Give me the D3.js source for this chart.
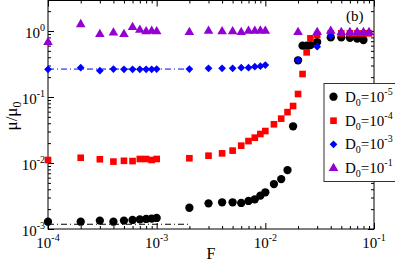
<!DOCTYPE html>
<html><head><meta charset="utf-8">
<script src="https://cdn.jsdelivr.net/npm/d3@7"></script>
<style>body{margin:0;background:#fff}svg{display:block}text{font-family:"Liberation Serif","DejaVu Serif",serif}</style>
</head><body>
<svg id="c" width="395" height="264"></svg>
<script>
// ---- data ----
const F_low = [1e-4,2e-4,3e-4,4e-4,5e-4,6e-4,7e-4,8e-4,9e-4,1e-3,2e-3];
const F_mid = [3e-3,4e-3,5e-3,6e-3,7e-3,8e-3,9e-3,1e-2];

const blackF = [...F_low, ...F_mid, 1.2e-2,1.4e-2,1.6e-2,1.8e-2,2e-2,2.2e-2,2.4e-2,2.6e-2,3e-2,4e-2,5e-2,6e-2,7e-2,8e-2];
const blackV = [1.29e-3,1.29e-3,1.34e-3,1.29e-3,1.34e-3,1.37e-3,1.40e-3,1.42e-3,1.44e-3,1.47e-3,2.1e-3,
                2.45e-3,2.54e-3,2.54e-3,2.48e-3,2.66e-3,2.82e-3,3.2e-3,3.6e-3,
                4.8e-3,5.7e-3,7.8e-3,3.6e-2,0.36,0.60,0.60,0.61,0.68,0.80,0.80,0.79,0.77,0.73];

const redF = [...F_low, ...F_mid, 1.2e-2,1.4e-2,1.6e-2,1.8e-2,2e-2,2.2e-2,2.4e-2,2.6e-2,3e-2,4e-2,5e-2,6e-2,7e-2,8e-2,9e-2];
const redV = [1.11e-2,1.2e-2,1.14e-2,1.05e-2,1.08e-2,1.07e-2,1.15e-2,1.15e-2,1.11e-2,1.15e-2,1.18e-2,
              1.29e-2,1.4e-2,1.54e-2,1.83e-2,2.15e-2,2.42e-2,2.75e-2,3.05e-2,
              3.86e-2,4.7e-2,5.9e-2,7.3e-2,0.111,0.223,0.475,0.775,0.87,0.92,0.92,0.92,0.92,0.92,0.92];

const blueF = [...F_low, ...F_mid, 2e-2,3e-2,4e-2];
const blueV = [0.263,0.278,0.25,0.265,0.263,0.263,0.263,0.263,0.263,0.265,0.265,
               0.272,0.272,0.272,0.278,0.278,0.288,0.293,0.305,
               0.363,0.578,0.85];

const violetF = [...F_low, ...F_mid, 2e-2,3e-2,4e-2,5e-2,6e-2,7e-2,8e-2,9e-2];
const violetV = [0.674,1.26,0.89,0.94,0.89,1.14,1.035,0.98,1.0,0.98,0.955,
                 1.0,0.98,0.98,0.955,1.0,1.0,1.01,1.0,
                 0.955,0.955,1.0,0.955,0.955,0.955,0.955,0.955];

const blackLineF = [1e-4, 2e-3];
const blackLineV = [1.18e-3, 1.18e-3];
const blueLineF = [1e-4, 2e-3];
const blueLineV = [0.265, 0.265];

const xMajor = [1e-4,1e-3,1e-2,1e-1];
const xMajorExp = ["-4","-3","-2","-1"];
const yMajor = [1e-3,1e-2,1e-1,1e0];
const yMajorExp = ["-3","-2","-1","0"];

const legendExp = ["-5","-4","-3","-1"];
const colors = ["#000000","#ff0000","#0000ff","#9400d3"];
const shapes = ["circle","square","diamond","triangle"];

// ---- chart ----
const svg = d3.select("#c");
const L=48, R=374, T=0.5, B=229;
const x = d3.scaleLog().domain([1e-4,1e-1]).range([L,R]);
const y = d3.scaleLog().domain([1e-3, Math.pow(10,(B-T)/66-3)]).range([B,T]);

function minors(dom){
  const out=[];
  for(let e=Math.floor(Math.log10(dom[0]));e<=Math.ceil(Math.log10(dom[1]));e++){
    for(let k=2;k<=9;k++){const v=k*Math.pow(10,e); if(v>dom[0]&&v<dom[1]) out.push(v);}
  }
  return out;
}
const g = svg.append("g");
g.append("rect").attr("x",L).attr("y",T).attr("width",R-L).attr("height",B-T)
  .attr("fill","none").attr("stroke","#000").attr("stroke-width",1);

function axis(gen, scale, vals, size, tr){
  const a = gen(scale).tickValues(vals).tickSize(size).tickFormat("");
  const s = g.append("g").attr("transform",tr).call(a);
  s.select(".domain").remove();
  s.selectAll("line").attr("stroke","#000");
}
const xm = minors(x.domain()), ym = minors(y.domain());
axis(d3.axisBottom, x, xMajor, -6, `translate(0,${B})`);
axis(d3.axisBottom, x, xm, -3, `translate(0,${B})`);
axis(d3.axisTop, x, xMajor, -6, `translate(0,${T})`);
axis(d3.axisTop, x, xm, -3, `translate(0,${T})`);
axis(d3.axisLeft, y, yMajor, -6, `translate(${L},0)`);
axis(d3.axisLeft, y, ym, -3, `translate(${L},0)`);
axis(d3.axisRight, y, yMajor, -6, `translate(${R},0)`);
axis(d3.axisRight, y, ym, -3, `translate(${R},0)`);

xMajor.forEach((v,i)=>{
  const t=g.append("text").attr("x",x(v)).attr("y",248).attr("text-anchor","middle").attr("font-size",15);
  t.append("tspan").text("10");
  t.append("tspan").attr("font-size",10).attr("dy",-7).text(xMajorExp[i]);
});
yMajor.forEach((v,i)=>{
  const t=g.append("text").attr("x",45).attr("y",y(v)+7).attr("text-anchor","end").attr("font-size",15);
  t.append("tspan").text("10");
  t.append("tspan").attr("font-size",10).attr("dy",-7).text(yMajorExp[i]);
});

g.append("text").attr("x",211).attr("y",259).attr("text-anchor","middle").attr("font-size",16).text("F");
const yl = g.append("text").attr("transform","translate(17,116) rotate(-90)").attr("text-anchor","middle").attr("font-size",17);
yl.append("tspan").text("μ/μ");
yl.append("tspan").attr("font-size",12).attr("dy",4).text("0");

g.append("text").attr("x",346).attr("y",21).attr("font-size",15).text("(b)");

const line = d3.line().x(d=>x(d[0])).y(d=>y(d[1]));
g.append("path").attr("d",line(blackLineF.map((f,i)=>[f,blackLineV[i]])))
  .attr("stroke","#000").attr("fill","none").attr("stroke-dasharray","6,3,1,3");
g.append("path").attr("d",line(blueLineF.map((f,i)=>[f,blueLineV[i]])))
  .attr("stroke","#0000ff").attr("fill","none").attr("stroke-dasharray","6,3,1,3");

const sym = {
  circle: {gen: d3.symbol().type(d3.symbolCircle).size(54), rot: 0},
  square: {gen: d3.symbol().type(d3.symbolSquare).size(44), rot: 0},
  diamond: {gen: d3.symbol().type(d3.symbolSquare).size(30), rot: 45},
  triangle: {gen: d3.symbol().type(d3.symbolTriangle).size(40), rot: 0}
};
const series = [[blackF,blackV],[redF,redV],[blueF,blueV],[violetF,violetV]];
series.forEach((s,k)=>{
  const sy = sym[shapes[k]];
  g.append("g").selectAll("path").data(s[0].map((f,i)=>[f,s[1][i]])).join("path")
    .attr("d",sy.gen())
    .attr("transform",d=>`translate(${x(d[0])},${y(d[1])}) rotate(${sy.rot})`)
    .attr("fill",colors[k]);
});

const lg = g.append("g");
lg.append("rect").attr("x",324).attr("y",83.5).attr("width",90).attr("height",98)
  .attr("fill","#fff").attr("stroke","#333").attr("stroke-width",1);
const rows=[96.7,120.7,144.3,168.3];
rows.forEach((ry,k)=>{
  const sy = sym[shapes[k]];
  lg.append("path").attr("d",sy.gen()).attr("transform",`translate(333.5,${ry}) rotate(${sy.rot})`).attr("fill",colors[k]);
  const t = lg.append("text").attr("x",345).attr("y",ry+5).attr("font-size",15);
  t.append("tspan").text("D");
  t.append("tspan").attr("font-size",10).attr("dy",4).text("0");
  t.append("tspan").attr("dy",-4).text("=10");
  t.append("tspan").attr("font-size",10).attr("dy",-7).text(legendExp[k]);
});
</script>
</body></html>
